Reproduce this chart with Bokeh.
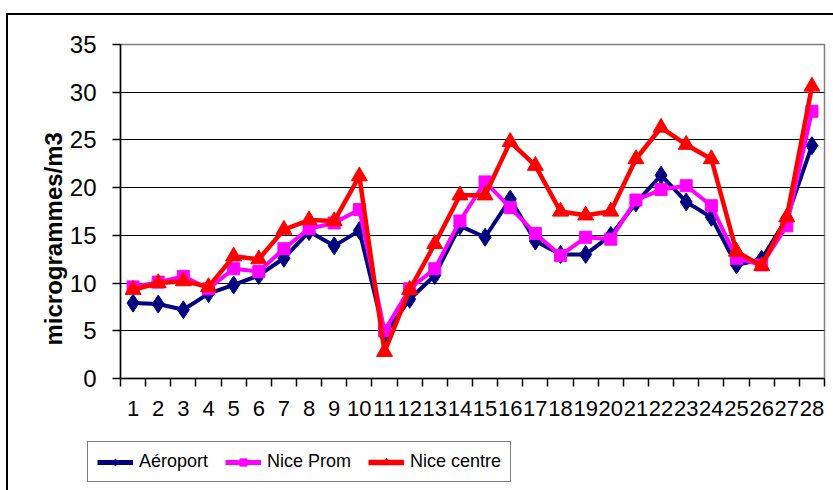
import math
from bokeh.plotting import figure
from bokeh.layouts import column, row
from bokeh.models import Range1d, FixedTicker, Legend, LegendItem, Title
from bokeh.embed import file_html
from bokeh.resources import INLINE

days = list(range(1, 29))
day_labels = [str(d) for d in days]
aeroport = [7.9, 7.8, 7.2, 8.9, 9.8, 10.8, 12.6, 15.4, 13.9, 15.5, 4.6, 8.3, 10.8, 16.0,
            14.8, 18.8, 14.4, 13.0, 13.0, 15.0, 18.4, 21.3, 18.5, 16.9, 11.9, 12.5, 16.8, 24.4]
nice_prom = [9.6, 10.1, 10.7, 9.4, 11.5, 11.2, 13.6, 15.7, 16.3, 17.7, 5.0, 9.4, 11.5, 16.5,
             20.6, 17.9, 15.2, 12.9, 14.8, 14.6, 18.7, 19.8, 20.2, 18.1, 12.6, 11.9, 16.0, 28.0]
nice_centre = [9.3, 10.0, 10.2, 9.6, 12.8, 12.5, 15.6, 16.6, 16.5, 21.2, 2.8, 9.3, 14.1, 19.2,
               19.2, 24.8, 22.3, 17.5, 17.1, 17.5, 23.0, 26.3, 24.5, 23.0, 13.3, 11.8, 16.9, 30.6]
y_ticks = [0, 5, 10, 15, 20, 25, 30, 35]
series_names = ["Aéroport", "Nice Prom", "Nice centre"]
y_title = "microgrammes/m3"

W = 825
H1 = 420
H2 = 55
p = figure(width=W, height=H1, output_backend="svg", toolbar_location=None,
           x_range=Range1d(0.5, 28.5), y_range=Range1d(0, 35),
           min_border_left=112, min_border_right=9, min_border_top=29, min_border_bottom=57)
p.background_fill_color = "white"
p.border_fill_color = "white"
p.outline_line_color = "#808080"
p.outline_line_width = 1.5

# x axis
xa = p.xaxis[0]
xa.ticker = FixedTicker(ticks=days, minor_ticks=[d - 0.5 for d in days] + [28.5])
xa.major_label_overrides = {d: s for d, s in zip(days, day_labels)}
xa.major_tick_out = 0
xa.major_tick_in = 0
xa.minor_tick_out = 8
xa.minor_tick_in = 0
xa.minor_tick_line_color = "black"
xa.minor_tick_line_width = 1.5
xa.axis_line_color = "black"
xa.axis_line_width = 1.5
xa.major_label_text_font = "Liberation Sans"
xa.major_label_text_font_size = "22px"
xa.major_label_text_color = "black"
xa.major_label_standoff = 14

# y axis
ya = p.yaxis[0]
ya.ticker = FixedTicker(ticks=y_ticks, minor_ticks=[])
ya.major_tick_out = 8
ya.major_tick_in = 0
ya.major_tick_line_color = "black"
ya.major_tick_line_width = 1.5
ya.axis_line_color = "black"
ya.axis_line_width = 1.5
ya.major_label_text_font = "Liberation Sans"
ya.major_label_text_font_size = "24px"
ya.major_label_text_color = "black"
ya.major_label_standoff = 16

p.xgrid.grid_line_color = None
p.ygrid.ticker = FixedTicker(ticks=y_ticks[1:-1])
p.ygrid.grid_line_color = "black"
p.ygrid.grid_line_width = 1

styles = [
    ("#000080", "diamond", 18, 4),
    ("#FF00FF", "square", 12, 4),
    ("#FF0000", "triangle", 16, 4.5),
]

# legend lives in a small companion figure under the chart (its copies of the
# series fall outside that figure's ranges, so only the legend shows)
p2 = figure(width=W, height=H2, output_backend="svg", toolbar_location=None,
            x_range=Range1d(-1, 0), y_range=Range1d(-1, 0),
            x_axis_location=None, y_axis_location=None,
            min_border=0, min_border_left=0, min_border_right=0,
            min_border_top=0, min_border_bottom=0)
p2.grid.visible = False
p2.outline_line_color = None
p2.background_fill_color = "white"
p2.border_fill_color = "white"

items = []
for name, vals, (col, mk, sz, lw) in zip(series_names, [aeroport, nice_prom, nice_centre], styles):
    p.line(days, vals, line_color=col, line_width=lw)
    p.scatter(days, vals, marker=mk, size=sz, fill_color=col, line_color=col)
    l2 = p2.line(days, vals, line_color=col, line_width=lw + 1)
    s2 = p2.scatter(days, vals, marker=mk, size=sz - 4, fill_color=col, line_color=col)
    items.append(LegendItem(label=name, renderers=[l2, s2]))

legend = Legend(items=items, orientation="horizontal", location=(79, 8))
legend.label_text_font = "Liberation Sans"
legend.label_text_font_size = "18px"
legend.label_text_color = "black"
legend.glyph_width = 36
legend.glyph_height = 18
legend.label_standoff = 6
legend.spacing = 17
legend.padding = 9
legend.margin = 0
legend.border_line_color = "black"
legend.border_line_width = 1.5
legend.background_fill_color = "white"
p2.add_layout(legend, "center")

p.add_layout(Title(text=y_title, align="left", offset=33, standoff=0,
                   text_font="Liberation Sans", text_font_style="bold",
                   text_font_size="24px", text_color="black"), "left")

layout = column(p, row(p2), spacing=0,
                styles={"margin-left": "6px", "margin-top": "13px",
                        "border-left": "2px solid black", "border-top": "2px solid black"})

open("out.html", "w").write(file_html(layout, INLINE))
